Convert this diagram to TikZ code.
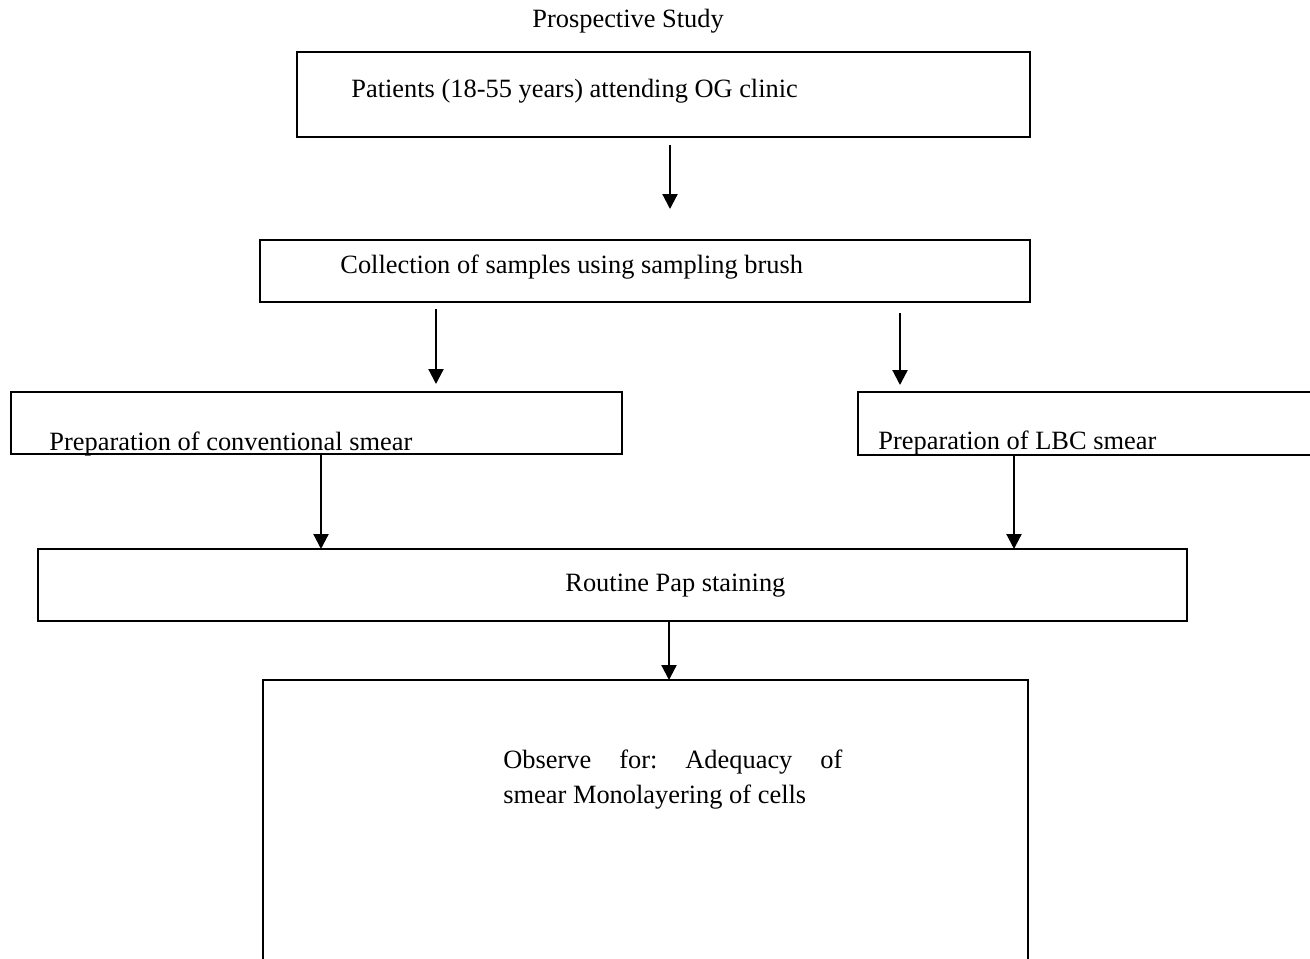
\documentclass[tikz,border=0pt]{standalone}
\usepackage{fontspec}
\setmainfont{Liberation Serif}
\usetikzlibrary{arrows.meta,positioning,calc}

\begin{document}
\begin{tikzpicture}[x=0.5pt, y=-0.5pt,
    box/.style={draw, line width=0.9pt, inner sep=0pt, outer sep=0pt},
    lbl/.style={font=\fontsize{13.2}{17.5}\selectfont\frenchspacing, anchor=base west, inner sep=0pt},
    arr/.style={-{Triangle[width=7.5pt,length=7.5pt]}, line width=1.1pt}]

    % page is 1310 x 958 (units of half a point)
    \clip (0,0) rectangle (1310,958);

    % Title
    \node[lbl] (title) at (532,27) {Prospective Study};

    % Boxes, top to bottom
    \node[box, minimum width=366.5pt, minimum height=42.5pt] (patients) at (663.5,94.5) {};
    \node[box, minimum width=385pt, minimum height=31pt] (collect) at (645,271) {};
    \node[box, minimum width=305.5pt, minimum height=31pt] (conv) at (316.5,423) {};
    \node[box, minimum width=241pt, minimum height=31.5pt] (lbc) at (1099,423.5) {};
    \node[box, minimum width=574.5pt, minimum height=36pt] (pap) at (612.5,585) {};
    \node[box, minimum width=382.5pt, minimum height=160pt] (observe) at (645.5,840) {};

    % Box texts
    \node[lbl] (lpatients) at (351,97) {Patients (18-55 years) attending OG clinic};
    \node[lbl] (lcollect) at (340,273) {Collection of samples using sampling brush};
    \node[lbl] (lconv) at (49,450) {Preparation of conventional smear};
    \node[lbl] (llbc) at (878,449) {Preparation of LBC smear};
    \node[lbl] (lpap) at (565,591) {Routine Pap staining};
    \node[lbl, text width=169.5pt, align=justify] (lobserve) at (503,768)
        {Observe for: Adequacy of\linebreak smear Monolayering of cells};

    % Arrow columns
    \coordinate (xa) at (670,0);
    \coordinate (xb) at (436,0);
    \coordinate (xc) at (900,0);
    \coordinate (xd) at (321,0);
    \coordinate (xe) at (1014,0);
    \coordinate (xf) at (669,0);

    \draw[arr, shorten <=4pt, shorten >=15.5pt] (patients.south -| xa) -- (collect.north -| xa);
    \draw[arr, shorten <=3.5pt, shorten >=4pt] (collect.south -| xb) -- (conv.north -| xb);
    \draw[arr, shorten <=5.5pt, shorten >=3.5pt] (collect.south -| xc) -- (lbc.north -| xc);
    \draw[arr] (conv.south -| xd) -- (pap.north -| xd);
    \draw[arr] (lbc.south -| xe) -- (pap.north -| xe);
    \draw[arr] (pap.south -| xf) -- (observe.north -| xf);
\end{tikzpicture}
\end{document}
